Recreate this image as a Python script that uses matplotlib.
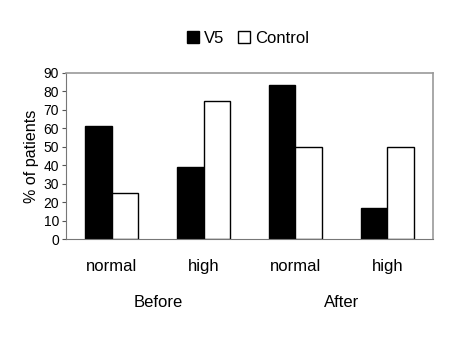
import numpy as np
import matplotlib
matplotlib.use("Agg")
import matplotlib.pyplot as plt

plt.rcParams['font.family'] = ['Liberation Sans', 'DejaVu Sans']

categories = ["normal", "high", "normal", "high"]
groups = ["Before", "After"]
v5 = [61, 39, 83.3, 16.7]
control = [25, 75, 50, 50]

fig = plt.figure(figsize=(4.55, 3.47), dpi=100)
ax = fig.add_axes([0.145, 0.311, 0.807, 0.479])

x = np.arange(len(categories))
w = 0.29
ax.bar(x - w / 2, v5, w, color='black', edgecolor='black', linewidth=1, label='V5')
ax.bar(x + w / 2, control, w, color='white', edgecolor='black', linewidth=1, label='Control')

ax.set_xlim(-0.5, len(categories) - 0.5)
ax.set_ylim(0, 90)
ax.set_yticks(range(0, 91, 10))
ax.set_xticks(x)
ax.set_xticklabels(categories, fontsize=12)
ax.tick_params(axis='x', length=0, pad=14)
ax.tick_params(axis='y', labelsize=10, length=3, width=0.8, pad=2, color='#555555')
ax.set_ylabel('% of patients', fontsize=11.6, labelpad=3)

for s in ['top', 'right']:
    ax.spines[s].set_color('#999999')
    ax.spines[s].set_linewidth(1.2)
ax.spines['left'].set_color('#777777')
ax.spines['bottom'].set_color('#777777')

for i, g in enumerate(groups):
    ax.text(2 * i + 0.5, -0.38, g, transform=ax.get_xaxis_transform(),
            ha='center', va='center', fontsize=12)

fig.legend(loc='center', bbox_to_anchor=(0.545, 0.89), ncol=2, frameon=False,
           fontsize=12, handlelength=0.75, handleheight=0.75, handletextpad=0.3,
           columnspacing=0.8)

fig.savefig('out.png', dpi=100)
